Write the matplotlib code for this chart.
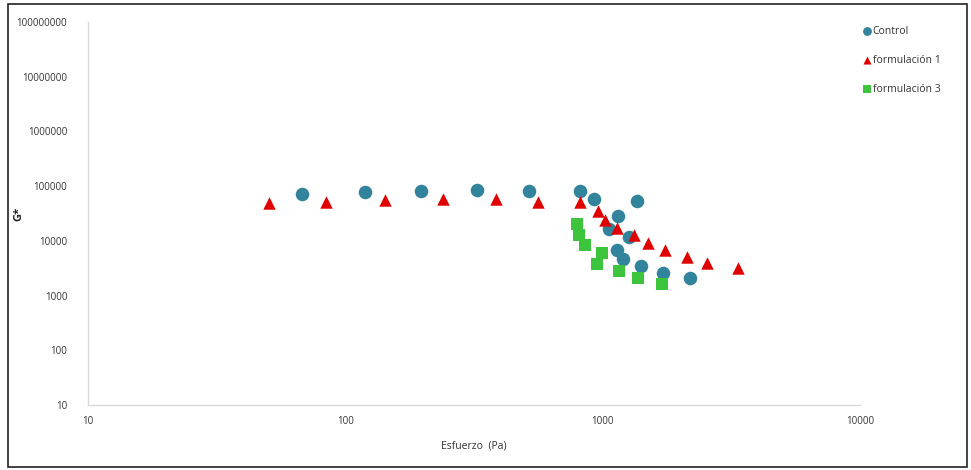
import matplotlib
matplotlib.use("Agg")
import matplotlib.pyplot as plt
from matplotlib.patches import Rectangle
from matplotlib.ticker import FixedLocator, FixedFormatter, NullLocator

plt.rcParams['font.family'] = ['Open Sans', 'DejaVu Sans']

# Data
control_x = [68, 119, 196, 324, 518, 818, 927, 1365, 1151, 1062, 1270, 1141, 1203, 1413, 1722, 2193]
control_y = [71800, 78000, 81500, 85000, 81500, 81500, 58000, 53500, 28400, 16400, 11700, 6790, 4640, 3460, 2580, 2090]

f1_x = [50.7, 84.3, 142.6, 239, 386, 560, 818, 959, 1018, 1141, 1324, 1501, 1741, 2118, 2549, 3364]
f1_y = [49100, 51900, 55700, 57400, 58900, 51900, 50600, 35500, 24000, 16900, 12600, 9000, 6790, 4990, 3880, 3140]

f3_x = [794, 807, 851, 993, 951, 1153, 1367, 1702]
f3_y = [20300, 12800, 8380, 6050, 3720, 2810, 2060, 1600]

x_ticks = [10, 100, 1000, 10000]
x_tick_labels = ['10', '100', '1000', '10000']
y_ticks = [10, 100, 1000, 10000, 100000, 1000000, 10000000, 100000000]
y_tick_labels = ['10', '100', '1000', '10000', '100000', '1000000', '10000000', '100000000']

series_names = ['Control', 'formulación 1', 'formulación 3']

fig = plt.figure(figsize=(9.71, 4.70), dpi=100)
ax = fig.add_axes([88/971, 1-405/470, (860-88)/971, (405-22)/470])

ax.scatter(control_x, control_y, s=95, marker='o', color='#31849B', label=series_names[0], zorder=3, linewidths=0)
ax.scatter(f1_x, f1_y, s=80, marker='^', color='#E00000', label=series_names[1], zorder=3, linewidths=0)
ax.scatter(f3_x, f3_y, s=80, marker='s', color='#3CC43C', label=series_names[2], zorder=3, linewidths=0)

ax.set_xscale('log')
ax.set_yscale('log')
ax.set_xlim(10, 10000)
ax.set_ylim(10, 100000000)

ax.xaxis.set_major_locator(FixedLocator(x_ticks))
ax.xaxis.set_major_formatter(FixedFormatter(x_tick_labels))
ax.xaxis.set_minor_locator(NullLocator())
ax.yaxis.set_major_locator(FixedLocator(y_ticks))
ax.yaxis.set_major_formatter(FixedFormatter(y_tick_labels))
ax.yaxis.set_minor_locator(NullLocator())

for s in ['top', 'right']:
    ax.spines[s].set_visible(False)
for s in ['left', 'bottom']:
    ax.spines[s].set_color('#D9D9D9')
    ax.spines[s].set_linewidth(1.0)

ax.tick_params(axis='both', length=0, labelsize=7, colors='#333333')
ax.tick_params(axis='x', pad=8)
ax.tick_params(axis='y', pad=15)

ax.set_xlabel('Esfuerzo  (Pa)', fontsize=7.5, color='#333333')
ax.xaxis.set_label_coords(0.5, -(440-405)/383)
ax.set_ylabel('G*', fontsize=8, color='#222222', fontweight='bold')
ax.yaxis.set_label_coords(-(88-24)/772, 0.5)

leg = ax.legend(loc='upper left', bbox_to_anchor=(0.995, 1.0), frameon=False,
                fontsize=7.5, handletextpad=0.0, labelspacing=1.7, handlelength=1.2,
                borderaxespad=0, markerscale=0.65)
for t in leg.get_texts():
    t.set_color('#333333')

# outer frame
fig.patches.append(Rectangle((8/971, 3/470), (967-8)/971, (466-3)/470,
                             transform=fig.transFigure, fill=False,
                             edgecolor='#222222', linewidth=1.2))

fig.savefig('out.png', dpi=100)
